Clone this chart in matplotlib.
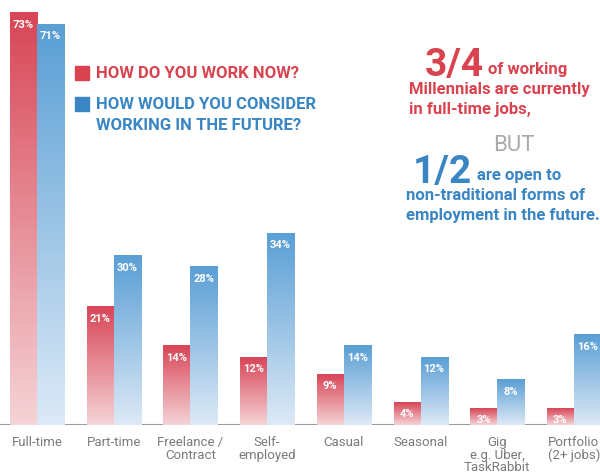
import numpy as np
import matplotlib
matplotlib.use('Agg')
from matplotlib import pyplot as plt
from matplotlib.colors import LinearSegmentedColormap

categories = ['Full-time', 'Part-time', 'Freelance /\nContract', 'Self-\nemployed',
              'Casual', 'Seasonal', 'Gig\ne.g. Uber,\nTaskRabbit', 'Portfolio\n(2+ jobs)']
now_pct = [73, 21, 14, 12, 9, 4, 3, 3]
future_pct = [71, 30, 28, 34, 14, 12, 8, 16]

RED = '#d9434f'
BLUE = '#3a86c4'
plt.rcParams['font.family'] = ['Roboto', 'DejaVu Sans']

red_cmap = LinearSegmentedColormap.from_list('r', ['#f5d3d6', '#d84657'])
blue_cmap = LinearSegmentedColormap.from_list('b', ['#dde9f6', '#5a9fd5'])

fig = plt.figure(figsize=(6, 4.75), dpi=100)
ax = fig.add_axes([0, 0.105, 1, 0.895])

x = np.arange(len(categories))
w = 0.352
grad = np.linspace(0, 1, 100).reshape(-1, 1)

ax.axhline(0, color='#9a9a9a', lw=1.5, zorder=1)

for vals, off, cmap in [(now_pct, -w / 2, red_cmap), (future_pct, w / 2, blue_cmap)]:
    bars = ax.bar(x + off, vals, w, color='none', zorder=2)
    for b, v in zip(bars, vals):
        x0 = b.get_x()
        ax.imshow(grad, extent=[x0, x0 + w, 0, v], origin='lower', cmap=cmap,
                  aspect='auto', zorder=2)
        ax.annotate(f'{v}%', (x0 + w / 2, v), xytext=(0, -5), textcoords='offset points',
                    ha='center', va='top', color='white', fontsize=8, fontweight='bold',
                    zorder=3)

for i, c in enumerate(categories):
    ax.annotate(c, (i, 0), xytext=(0, -8), textcoords='offset points', ha='center',
                va='top', color='#7a7a7a', fontsize=9.5, linespacing=0.95)

ax.set_xlim(-0.482, 7.34)
ax.set_ylim(0, 75.3)
ax.axis('off')

# legend
fig.patches.append(plt.Rectangle((75 / 600, 1 - 80 / 475), 14 / 600, 14 / 475,
                                 color=RED, transform=fig.transFigure, figure=fig))
fig.patches.append(plt.Rectangle((75 / 600, 1 - 111 / 475), 14 / 600, 14 / 475,
                                 color=BLUE, transform=fig.transFigure, figure=fig))


def line(px, py, s, color, size=12, **kw):
    fig.text(px / 600, 1 - py / 475, s, color=color, fontsize=size, va='baseline', **kw)


line(96, 78, 'HOW DO YOU WORK NOW?', RED, fontweight='bold')
line(96, 109, 'HOW WOULD YOU CONSIDER', BLUE, fontweight='bold')
line(96, 130, 'WORKING IN THE FUTURE?', BLUE, fontweight='bold')

# annotation text
line(425, 76, '3/4', RED, 28, fontweight='bold')
line(488, 74, 'of working', RED, fontweight='bold')
line(409, 94, 'Millennials are currently', RED, fontweight='bold')
line(409, 114, 'in full-time jobs,', RED, fontweight='bold')
line(514, 151, 'BUT', '#aaaaaa', 16, ha='center')
line(413, 183, '1/2', BLUE, 28, fontweight='bold')
line(477, 180, 'are open to', BLUE, fontweight='bold')
line(406, 200, 'non-traditional forms of', BLUE, fontweight='bold')
line(406, 220, 'employment in the future.', BLUE, fontweight='bold')

fig.savefig('out.png', dpi=100)
